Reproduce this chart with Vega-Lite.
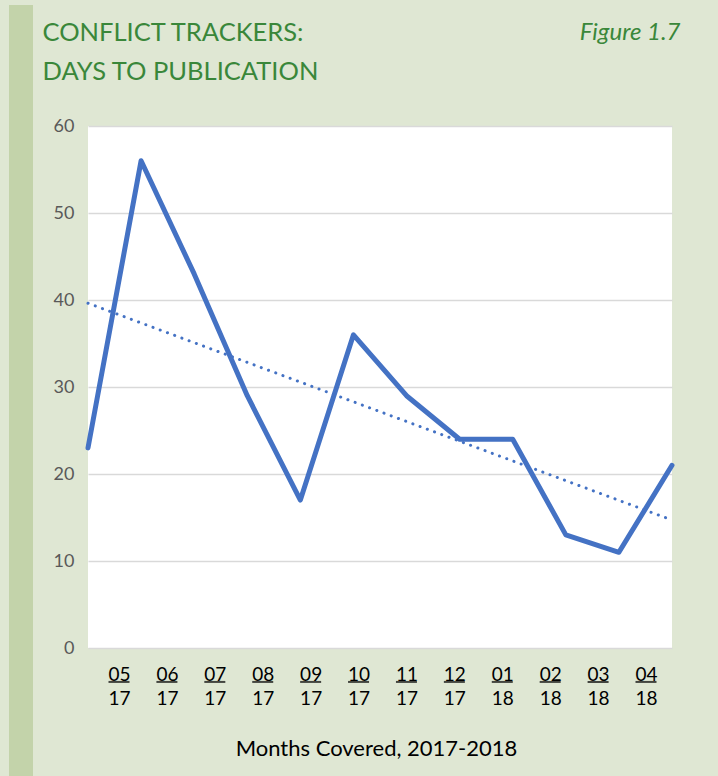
{
  "$schema": "https://vega.github.io/schema/vega-lite/v6.json",
  "background": "#dfe7d3",
  "autosize": {"type": "none"},
  "padding": {"left": 88, "top": 126, "right": 46, "bottom": 128},
  "width": 584,
  "height": 522,
  "view": {"fill": "#ffffff", "stroke": null},
  "config": {"font": "Lato"},
  "data": {
    "values": [
      {"i": 0, "lab": "05 17", "days": 23},
      {"i": 1, "lab": "06 17", "days": 56},
      {"i": 2, "lab": "07 17", "days": 43},
      {"i": 3, "lab": "08 17", "days": 29},
      {"i": 4, "lab": "09 17", "days": 17},
      {"i": 5, "lab": "10 17", "days": 36},
      {"i": 6, "lab": "11 17", "days": 29},
      {"i": 7, "lab": "12 17", "days": 24},
      {"i": 8, "lab": "01 18", "days": 24},
      {"i": 9, "lab": "02 18", "days": 13},
      {"i": 10, "lab": "03 18", "days": 11},
      {"i": 11, "lab": "04 18", "days": 21}
    ]
  },
  "layer": [
    {
      "encoding": {
        "x": {
          "field": "i",
          "type": "quantitative",
          "scale": {"domain": [0, 11], "nice": false, "zero": false},
          "axis": {
            "orient": "top",
            "domain": false,
            "ticks": false,
            "labels": false,
            "grid": false,
            "title": "Figure 1.7",
            "titleX": 592,
            "titleY": -87,
            "titleAlign": "right",
            "titleBaseline": "alphabetic",
            "titleAngle": 0,
            "titleFont": "Lato",
            "titleFontStyle": "italic",
            "titleFontWeight": "normal",
            "titleFontSize": 24,
            "titleColor": "#3a873a"
          }
        },
        "y": {
          "field": "days",
          "type": "quantitative",
          "scale": {"domain": [0, 60], "nice": false, "zero": true},
          "title": ["CONFLICT TRACKERS:", "DAYS TO PUBLICATION"],
          "axis": {
            "values": [0, 10, 20, 30, 40, 50, 60],
            "domain": false,
            "ticks": false,
            "grid": true,
            "gridColor": "#d9d9d9",
            "gridWidth": 1.5,
            "labelFont": "Lato",
            "labelFontSize": 18,
            "labelColor": "#595959",
            "labelPadding": 14,
            "titleAngle": 0,
            "titleX": -46,
            "titleY": -86,
            "titleAlign": "left",
            "titleBaseline": "alphabetic",
            "titleFont": "Lato",
            "titleFontSize": 25.5,
            "titleFontWeight": "normal",
            "titleColor": "#3a873a",
            "titleLineHeight": 39
          }
        }
      },
      "layer": [
        {
          "mark": {"type": "point", "opacity": 0, "size": 1},
          "encoding": {
            "color": {
              "field": "days",
              "type": "quantitative",
              "scale": {"range": ["#c3d3aa", "#c3d3aa"]},
              "legend": {
                "orient": "none",
                "legendX": -79,
                "legendY": -121,
                "direction": "vertical",
                "gradientLength": 771,
                "gradientThickness": 24,
                "gradientStrokeWidth": 0,
                "gradientOpacity": 1,
                "title": null,
                "padding": 0,
                "labelOpacity": 0,
                "labelFontSize": 1
              }
            }
          }
        },
        {
          "mark": {"type": "line", "color": "#4472c4", "strokeWidth": 5, "strokeJoin": "round", "strokeCap": "round"}
        },
        {
          "transform": [{"regression": "days", "on": "i"}],
          "mark": {"type": "line", "color": "#4472c4", "strokeWidth": 3, "strokeDash": [0.1, 7.6], "strokeCap": "round"}
        }
      ]
    },
    {
      "mark": {"type": "tick", "orient": "horizontal", "size": 21, "thickness": 2, "color": "#000000"},
      "encoding": {
        "x": {
          "field": "lab",
          "type": "ordinal",
          "sort": null,
          "scale": {"type": "point", "range": [31, 558], "padding": 0},
          "axis": {
            "orient": "bottom",
            "domain": false,
            "ticks": false,
            "tickSize": 0,
            "grid": false,
            "labelExpr": "split(datum.label, ' ')",
            "labelAngle": 0,
            "labelFont": "Lato",
            "labelFontSize": 19,
            "labelColor": "#000000",
            "labelBaseline": "alphabetic",
            "labelPadding": 32,
            "labelLineHeight": 24,
            "labelOverlap": false,
            "labelFlush": false,
            "title": "Months Covered, 2017-2018",
            "titleX": 288,
            "titleY": 107,
            "titleAlign": "center",
            "titleBaseline": "alphabetic",
            "titleFont": "Lato",
            "titleFontSize": 22,
            "titleFontWeight": "normal",
            "titleColor": "#000000"
          }
        },
        "y": {
          "datum": -3.9,
          "type": "quantitative",
          "scale": {"domain": [0, 60], "nice": false, "zero": true},
          "title": ["CONFLICT TRACKERS:", "DAYS TO PUBLICATION"]
        }
      }
    }
  ],
  "resolve": {"scale": {"x": "independent"}, "axis": {"x": "independent"}}
}
